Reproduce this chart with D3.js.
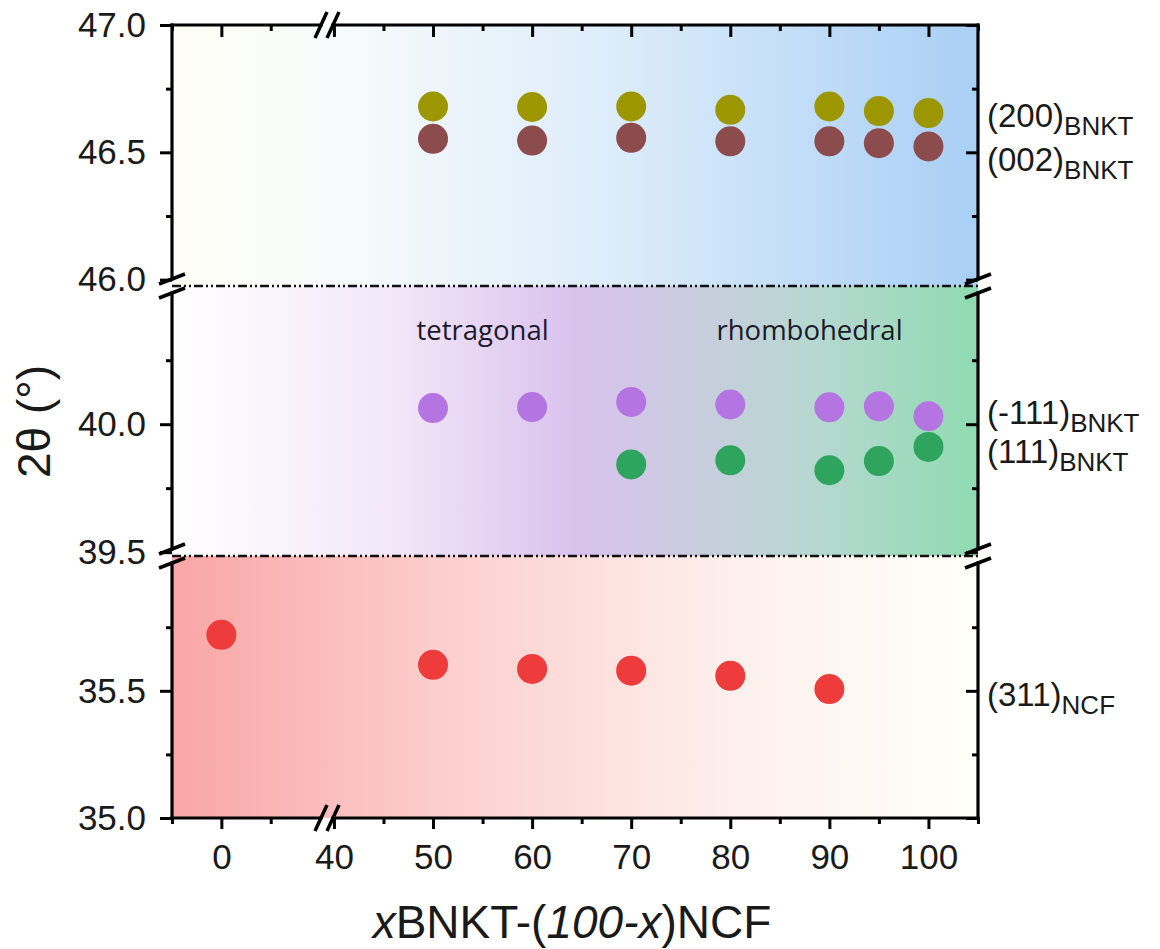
<!DOCTYPE html>
<html>
<head>
<meta charset="utf-8">
<script src="https://cdn.jsdelivr.net/npm/d3@7"></script>
<style>
  html, body { margin: 0; padding: 0; background: #fff; }
  svg { display: block; }
</style>
</head>
<body>
<svg id="chart" width="1160" height="949"></svg>
<script>
// --- data ---
const xBNKT = [50, 60, 70, 80, 90, 95, 100];
const peak200 = [46.680, 46.678, 46.680, 46.667, 46.680, 46.662, 46.654];
const peak002 = [46.553, 46.546, 46.557, 46.543, 46.543, 46.536, 46.523];
const peakM111 = [40.063, 40.067, 40.087, 40.077, 40.066, 40.070, 40.031];
const x111 = [70, 80, 90, 95, 100];
const peak111 = [39.843, 39.859, 39.820, 39.856, 39.911];
const xNCF = [0, 50, 60, 70, 80, 90];
const peak311 = [35.720, 35.602, 35.586, 35.579, 35.559, 35.507];

// tick values
const xMajor = [0, 40, 50, 60, 70, 80, 90, 100];
const xMinor = [-5, 5, 45, 55, 65, 75, 85, 95, 105];
const yMajorTop = [46.0, 46.5, 47.0], yMinorTop = [46.25, 46.75];
const yMajorMid = [39.5, 40.0], yMinorMid = [39.75, 40.25];
const yMajorBot = [35.0, 35.5], yMinorBot = [35.25, 35.75];

// right-hand peak labels
const peakNames = ["(200)", "(002)", "(-111)", "(111)", "(311)"];
const peakSubs = ["BNKT", "BNKT", "BNKT", "BNKT", "NCF"];
const peakLabelAt = [46.6, 46.425, 40.0, 39.85, 35.44];

// phase annotations
const phaseNames = ["tetragonal", "rhombohedral"];
const phaseX = [55, 88];
const phaseY = [40.33, 40.33];

// --- layout ---
const svg = d3.select("#chart");
const mLeft = 172, mRight = 978, mTop = 25, mBottom = 818;
const axisFont = "'Liberation Sans', Arial, sans-serif";

// broken axes: each segment gets its own linear scale
const xSegs = [
    { domain: [-5, 10.7], range: [mLeft, 327] },
    { domain: [39.3, 105], range: [327, mRight] }
];
const ySegs = [
    { domain: [45.975, 47.0], range: [286, mTop], major: yMajorTop, minor: yMinorTop,
      stops: [[0, "#fefef6"], [0.2, "#f8fbfb"], [0.55, "#dcecfa"], [1, "#a9cff5"]] },
    { domain: [39.485, 40.54], range: [556, 286], major: yMajorMid, minor: yMinorMid,
      stops: [[0, "#ffffff"], [0.28, "#f2e6f8"], [0.5, "#d9c2ed"], [0.62, "#cdcbe2"], [0.8, "#b6d8d0"], [1, "#8fdbb1"]] },
    { domain: [35.0, 36.03], range: [mBottom, 556], major: yMajorBot, minor: yMinorBot,
      stops: [[0, "#f9a6a6"], [0.35, "#fcd0cf"], [0.7, "#fdf0ec"], [1, "#fffffa"]] }
];
xSegs.forEach(s => s.scale = d3.scaleLinear().domain(s.domain).range(s.range));
ySegs.forEach(s => s.scale = d3.scaleLinear().domain(s.domain).range(s.range));

function xPos(v) {
    const s = xSegs.find(s => v >= s.domain[0] && v <= s.domain[1]);
    return s.scale(v);
}
function yPos(v) {
    const s = ySegs.find(s => v >= s.domain[0] && v <= s.domain[1]);
    return s.scale(v);
}

// --- backgrounds ---
const defs = svg.append("defs");
ySegs.forEach((s, i) => {
    const g = defs.append("linearGradient").attr("id", "bg" + i)
        .attr("x1", "0%").attr("x2", "100%").attr("y1", "0%").attr("y2", "0%");
    s.stops.forEach(([o, c]) => g.append("stop").attr("offset", o).attr("stop-color", c));
    svg.append("rect")
        .attr("x", mLeft).attr("width", mRight - mLeft)
        .attr("y", s.range[1]).attr("height", s.range[0] - s.range[1])
        .attr("fill", `url(#bg${i})`);
});

// dash-dot-dot lines at the panel breaks
const breaks = [ySegs[0].range[0], ySegs[1].range[0]];
svg.selectAll("line.brk").data(breaks).enter().append("line")
    .attr("class", "brk")
    .attr("x1", mLeft).attr("x2", mRight).attr("y1", d => d).attr("y2", d => d)
    .attr("stroke", "#111").attr("stroke-width", 2.5)
    .attr("stroke-dasharray", "9,3,2,3,2,3");

// --- points ---
const series = [
    { xs: xBNKT, ys: peak200, color: "#9c9700" },
    { xs: xBNKT, ys: peak002, color: "#8c4b4d" },
    { xs: xBNKT, ys: peakM111, color: "#b474e2" },
    { xs: x111, ys: peak111, color: "#2fa45f" },
    { xs: xNCF, ys: peak311, color: "#ee3b3b" }
];
series.forEach(s => {
    svg.append("g").selectAll("circle")
        .data(s.xs.map((x, i) => [x, s.ys[i]]))
        .enter().append("circle")
        .attr("cx", d => xPos(d[0]))
        .attr("cy", d => yPos(d[1]))
        .attr("r", 15)
        .attr("fill", s.color);
});

// --- axes ---
function styleAxis(g) {
    g.select(".domain").remove();
    g.selectAll(".tick line").attr("stroke", "#000").attr("stroke-width", 3);
    g.selectAll(".tick text").attr("font-family", axisFont).attr("font-size", 35).attr("fill", "#1a1a1a");
}

ySegs.forEach(s => {
    svg.append("g").attr("transform", `translate(${mLeft},0)`)
        .call(d3.axisLeft(s.scale).tickValues(s.major).tickSize(12).tickPadding(14).tickFormat(d3.format(".1f")))
        .call(styleAxis);
    svg.append("g").attr("transform", `translate(${mLeft},0)`)
        .call(d3.axisLeft(s.scale).tickValues(s.minor).tickSize(6).tickFormat(""))
        .call(styleAxis);
    svg.append("g").attr("transform", `translate(${mRight},0)`)
        .call(d3.axisRight(s.scale).tickValues(s.major).tickSize(-12).tickFormat(""))
        .call(styleAxis);
    svg.append("g").attr("transform", `translate(${mRight},0)`)
        .call(d3.axisRight(s.scale).tickValues(s.minor).tickSize(-6).tickFormat(""))
        .call(styleAxis);
});

xSegs.forEach(s => {
    const inSeg = v => v >= s.domain[0] && v <= s.domain[1];
    const maj = xMajor.filter(inSeg), min = xMinor.filter(inSeg);
    svg.append("g").attr("transform", `translate(0,${mBottom})`)
        .call(d3.axisBottom(s.scale).tickValues(maj).tickSize(11).tickPadding(15).tickFormat(d3.format("d")))
        .call(styleAxis);
    svg.append("g").attr("transform", `translate(0,${mBottom})`)
        .call(d3.axisBottom(s.scale).tickValues(min).tickSize(6).tickFormat(""))
        .call(styleAxis);
    svg.append("g").attr("transform", `translate(0,${mTop})`)
        .call(d3.axisTop(s.scale).tickValues(maj).tickSize(-12).tickFormat(""))
        .call(styleAxis);
    svg.append("g").attr("transform", `translate(0,${mTop})`)
        .call(d3.axisTop(s.scale).tickValues(min).tickSize(-6).tickFormat(""))
        .call(styleAxis);
});

// axis lines with gaps and break marks
const frame = svg.append("g").attr("stroke", "#000").attr("stroke-width", 3.2)
    .attr("stroke-linecap", "square");
const gap = 7;
ySegs.forEach((s, i) => {
    const y1 = s.range[1] + (i > 0 ? gap : 0);
    const y2 = s.range[0] - (i < ySegs.length - 1 ? gap : 0);
    [mLeft, mRight].forEach(x => frame.append("line").attr("x1", x).attr("x2", x).attr("y1", y1).attr("y2", y2));
});
const xBreak = xSegs[0].range[1];
[[mLeft, xBreak - 6], [xBreak + 6, mRight]].forEach(([a, b]) => {
    [mTop, mBottom].forEach(y => frame.append("line").attr("x1", a).attr("x2", b).attr("y1", y).attr("y2", y));
});
const slashes = svg.append("g").attr("stroke", "#000").attr("stroke-width", 3.5);
breaks.forEach(b => {
    [mLeft, mRight].forEach(x => {
        [b - gap, b + gap].forEach(y => slashes.append("line")
            .attr("x1", x - 13).attr("y1", y + 5).attr("x2", x + 13).attr("y2", y - 5));
    });
});
[mTop, mBottom].forEach(y => {
    [xBreak - 6, xBreak + 6].forEach(x => slashes.append("line")
        .attr("x1", x - 6).attr("y1", y + 13).attr("x2", x + 6).attr("y2", y - 13));
});

// --- texts ---
const peakText = svg.append("g").attr("font-family", axisFont).attr("fill", "#1a1a1a");
peakNames.forEach((name, i) => {
    const t = peakText.append("text")
        .attr("x", mRight + 9).attr("y", yPos(peakLabelAt[i]))
        .attr("font-size", 33).text(name);
    t.append("tspan").attr("font-size", 26).attr("dy", 8).text(peakSubs[i]);
});

phaseNames.forEach((name, i) => {
    svg.append("text")
        .attr("x", xPos(phaseX[i])).attr("y", yPos(phaseY[i]))
        .attr("text-anchor", "middle")
        .attr("font-family", "'Open Sans', 'Noto Sans', sans-serif")
        .attr("font-size", 27.5).attr("fill", "#1c1a2a")
        .text(name);
});

const xTitle = svg.append("text")
    .attr("x", (mLeft + mRight) / 2 - 3).attr("y", 938)
    .attr("text-anchor", "middle")
    .attr("font-family", axisFont).attr("font-size", 46).attr("fill", "#1a1a1a");
xTitle.append("tspan").attr("font-style", "italic").text("x");
xTitle.append("tspan").text("BNKT-(");
xTitle.append("tspan").attr("font-style", "italic").text("100-x");
xTitle.append("tspan").text(")NCF");

svg.append("text")
    .attr("transform", `translate(50,${(mTop + mBottom) / 2}) rotate(-90)`)
    .attr("text-anchor", "middle")
    .attr("font-family", axisFont).attr("font-size", 46).attr("fill", "#1a1a1a")
    .text("2θ (°)");
</script>
</body>
</html>
